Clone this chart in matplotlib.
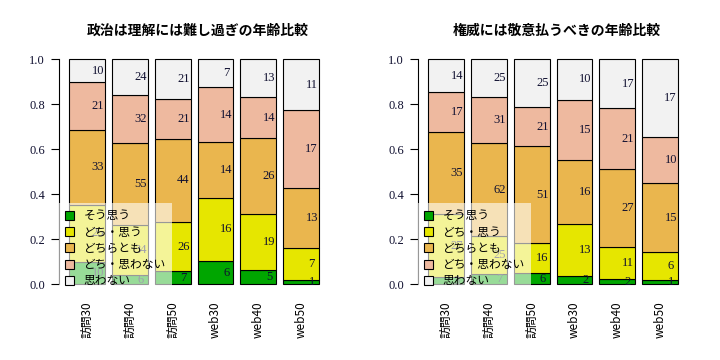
import numpy as np
import matplotlib
matplotlib.use('Agg')
import matplotlib.pyplot as plt
from matplotlib.patches import Patch

plt.rcParams['font.family'] = ['Noto Sans CJK JP', 'DejaVu Sans']

groups = ['訪問30', '訪問40', '訪問50', 'web30', 'web40', 'web50']
answers = ['そう思う', 'どち・思う', 'どちらとも', 'どち・思わない', '思わない']
colors = ['#00A600', '#E6E600', '#EAB64E', '#EEB99F', '#F2F2F2']

# 政治は理解には難し過ぎ
pol_sou = [10, 6, 7, 6, 5, 1]
pol_dochi_sou = [25, 34, 26, 16, 19, 7]
pol_dochiramo = [33, 55, 44, 14, 26, 13]
pol_dochi_nai = [21, 32, 21, 14, 14, 17]
pol_nai = [10, 24, 21, 7, 13, 11]

# 権威には敬意払うべき
ken_sou = [3, 7, 6, 2, 2, 1]
ken_dochi_sou = [27, 25, 16, 13, 11, 6]
ken_dochiramo = [35, 62, 51, 16, 27, 15]
ken_dochi_nai = [17, 31, 21, 15, 21, 10]
ken_nai = [14, 25, 25, 10, 17, 17]

titles = ['政治は理解には難し過ぎの年齢比較', '権威には敬意払うべきの年齢比較']


def draw_panel(ax, counts, title):
    counts = np.array(counts, dtype=float)
    props = counts / counts.sum(axis=0)
    x = 0.7 + 1.2 * np.arange(len(groups))
    bottom = np.zeros(len(groups))
    for k in range(len(answers)):
        ax.bar(x, props[k], width=1.0, bottom=bottom, color=colors[k],
               edgecolor='black', linewidth=0.8, zorder=2)
        mid = bottom + props[k] / 2
        for i in range(len(groups)):
            ax.text(x[i] + 0.3, mid[i], '%d' % counts[k, i], ha='center', va='center',
                    fontsize=9, family='Liberation Serif', color='#101030', zorder=3)
        bottom += props[k]

    ax.set_xlim(-0.088, 7.688)
    ax.set_ylim(-0.04, 1.04)
    ax.set_xticks(x)
    ax.set_xticklabels(groups, rotation=90, fontsize=8.5)
    ax.tick_params(axis='x', length=0, pad=6)
    ax.set_yticks(np.arange(0, 1.01, 0.2))
    ax.set_yticklabels(['%.1f' % v for v in np.arange(0, 1.01, 0.2)],
                       family='Liberation Serif', fontsize=9, color='#101030')
    ax.tick_params(axis='y', length=6, width=0.8, pad=4)
    for s in ['top', 'right', 'bottom']:
        ax.spines[s].set_visible(False)
    ax.spines['left'].set_bounds(0, 1)
    ax.spines['left'].set_linewidth(0.8)

    handles = [Patch(facecolor=c, edgecolor='black', linewidth=0.8) for c in colors]
    leg = ax.legend(handles, answers, loc='lower left', borderaxespad=0,
                    fontsize=8.5, frameon=True, framealpha=0.6, fancybox=False,
                    handlelength=0.8, handleheight=0.8, handletextpad=0.8,
                    labelspacing=0.28, borderpad=0.5)
    leg.get_frame().set_edgecolor('none')
    leg.get_frame().set_facecolor('white')

    pos = ax.get_position()
    fig.text((pos.x0 + pos.x1) / 2, 0.915, title, ha='center', va='center',
             fontsize=10, fontweight='bold')


fig = plt.figure(figsize=(7.2, 3.6), dpi=100)
ax1 = fig.add_axes([0.082, 0.185, 0.385, 0.675])
ax2 = fig.add_axes([0.5806, 0.185, 0.385, 0.675])

draw_panel(ax1, [pol_sou, pol_dochi_sou, pol_dochiramo, pol_dochi_nai, pol_nai], titles[0])
draw_panel(ax2, [ken_sou, ken_dochi_sou, ken_dochiramo, ken_dochi_nai, ken_nai], titles[1])

fig.savefig('out.png', dpi=100)
